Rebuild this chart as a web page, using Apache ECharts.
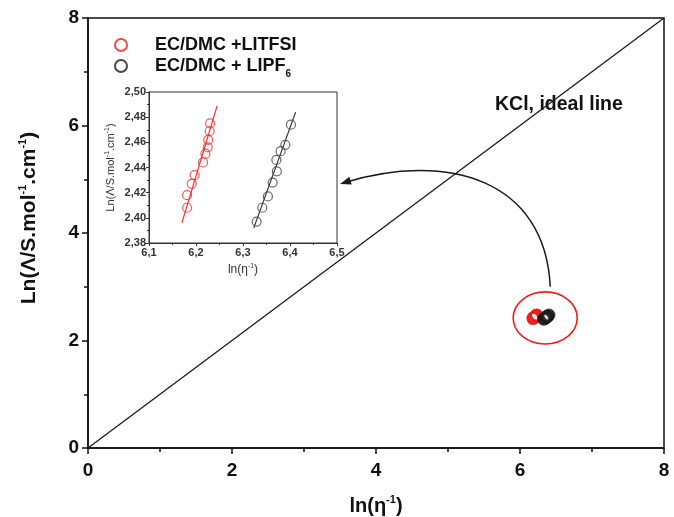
<!DOCTYPE html>
<html>
<head>
<meta charset="utf-8">
<script src="https://cdn.jsdelivr.net/npm/echarts@6/dist/echarts.min.js"></script>
<style>
  html, body { margin: 0; padding: 0; background: #fff; }
  #chart { width: 674px; height: 517px; }
</style>
</head>
<body>
<div id="chart"></div>
<script>
// LiTFSI in EC/DMC
const litfsiX = [6.181, 6.181, 6.191, 6.197, 6.215, 6.220, 6.225, 6.226, 6.229, 6.230]
const litfsiY = [2.408, 2.418, 2.427, 2.434, 2.444, 2.451, 2.456, 2.462, 2.469, 2.475]
// LiPF6 in EC/DMC
const lipf6X = [6.329, 6.341, 6.353, 6.363, 6.372, 6.371, 6.380, 6.390, 6.402]
const lipf6Y = [2.397, 2.408, 2.417, 2.428, 2.437, 2.446, 2.453, 2.458, 2.474]
// linear fits (end points)
const litfsiFit = [[6.170, 2.396], [6.245, 2.489]]
const lipf6Fit = [[6.323, 2.392], [6.412, 2.484]]
// KCl ideal line
const idealLine = [[0, 0], [8, 8]]
// annotation ellipse [cx, cy, rx, ry] and arrow [start, cp1, cp2, end]
const ellipse = [[6.35, 2.42, 0.445, 0.484]]
const arrow = [[6.42, 3.0, 6.35, 4.99, 5.0, 5.53, 3.54, 4.93]]

const pts = (xs, ys) => xs.map((x, i) => [x, ys[i]])

const FONT = 'Liberation Sans'
const RED = '#ee1c1c'
const BLACK = '#1a1a1a'

const chart = echarts.init(document.getElementById('chart'))

const mainLabel = { fontFamily: FONT, fontWeight: 'bold', fontSize: 19, color: '#111' }
const insetLabel = { fontFamily: FONT, fontWeight: 'bold', fontSize: 11, color: '#333' }

chart.setOption({
  animation: false,
  backgroundColor: '#fff',
  legend: {
    orient: 'vertical',
    left: 109,
    top: 31,
    itemGap: 3,
    itemWidth: 16,
    itemHeight: 12,
    data: ['EC/DMC +LITFSI', 'EC/DMC + LIPF6'],
    formatter: function (name) {
      if (name === 'EC/DMC + LIPF6') return '{t|EC/DMC + LIPF}{s|6}'
      return '{t|' + name + '}'
    },
    textStyle: {
      rich: {
        t: { fontFamily: FONT, fontWeight: 'bold', fontSize: 18, color: '#111', lineHeight: 18, padding: [0, 0, 0, 21] },
        s: { fontFamily: FONT, fontWeight: 'bold', fontSize: 10, color: '#111', verticalAlign: 'bottom', lineHeight: 26 }
      }
    }
  },
  graphic: [{
    type: 'text',
    left: 495,
    top: 95,
    style: { text: 'KCl, ideal line', font: 'bold 19.5px "Liberation Sans"', fill: '#111' }
  }],
  grid: [
    { left: 88, right: 10, top: 18, bottom: 69, outerBoundsMode: 'none', show: true, borderColor: '#111', borderWidth: 1.5 },
    { left: 149, top: 92, width: 188, height: 151, outerBoundsMode: 'none', show: true, borderColor: '#333', borderWidth: 1, backgroundColor: '#fff' }
  ],
  xAxis: [{
    gridIndex: 0,
    type: 'value', min: 0, max: 8, interval: 2,
    name: '{b|ln(η}{s|-1}{b|)}',
    nameLocation: 'middle', nameGap: 46,
    nameTextStyle: {
      rich: {
        b: { fontFamily: FONT, fontWeight: 'bold', fontSize: 20, color: '#111', lineHeight: 24 },
        s: { fontFamily: FONT, fontWeight: 'bold', fontSize: 11, color: '#111', verticalAlign: 'top', lineHeight: 24 }
      }
    },
    axisLine: { lineStyle: { color: '#111', width: 1.5 } },
    axisTick: { inside: false, length: 6, lineStyle: { width: 1.5 } },
    minorTick: { show: true, splitNumber: 2, length: 4, lineStyle: { color: '#111', width: 1.5 } },
    splitLine: { show: false },
    axisLabel: Object.assign({ margin: 13 }, mainLabel)
  }, {
    gridIndex: 1,
    type: 'value', min: 6.1, max: 6.5, interval: 0.1,
    name: '{b|ln(η}{s|-1}{b|)}',
    nameLocation: 'middle', nameGap: 20,
    nameTextStyle: {
      rich: {
        b: { fontFamily: FONT, fontSize: 12, color: '#333', lineHeight: 14 },
        s: { fontFamily: FONT, fontSize: 7, color: '#333', verticalAlign: 'top', lineHeight: 14 }
      }
    },
    axisLine: { lineStyle: { color: '#333', width: 1 } },
    axisTick: { length: 3, lineStyle: { color: '#333' } },
    minorTick: { show: true, splitNumber: 2, length: 2, lineStyle: { color: '#333' } },
    splitLine: { show: false },
    axisLabel: Object.assign({ margin: 4, formatter: v => v.toFixed(1).replace('.', ',') }, insetLabel)
  }],
  yAxis: [{
    gridIndex: 0,
    type: 'value', min: 0, max: 8, interval: 2,
    name: '{b|Ln(Λ/S.mol}{s|-1}{b|.cm}{s|-1}{b|)}',
    nameLocation: 'middle', nameGap: 47,
    nameTextStyle: {
      padding: [0, 0, 0, 30],
      rich: {
        b: { fontFamily: FONT, fontWeight: 'bold', fontSize: 21, color: '#111', lineHeight: 24 },
        s: { fontFamily: FONT, fontWeight: 'bold', fontSize: 11, color: '#111', verticalAlign: 'top', lineHeight: 24 }
      }
    },
    axisLine: { lineStyle: { color: '#111', width: 1.5 } },
    axisTick: { length: 6, lineStyle: { width: 1.5 } },
    minorTick: { show: true, splitNumber: 2, length: 4, lineStyle: { color: '#111', width: 1.5 } },
    splitLine: { show: false },
    axisLabel: Object.assign({ margin: 9 }, mainLabel)
  }, {
    gridIndex: 1,
    type: 'value', min: 2.38, max: 2.50, interval: 0.02,
    name: '{b|Ln(Λ/S.mol}{s|-1}{b|.cm}{s|-1}{b|)}',
    nameLocation: 'middle', nameGap: 32,
    nameTextStyle: {
      rich: {
        b: { fontFamily: FONT, fontSize: 11, color: '#333', lineHeight: 13 },
        s: { fontFamily: FONT, fontSize: 7, color: '#333', verticalAlign: 'top', lineHeight: 13 }
      }
    },
    axisLine: { lineStyle: { color: '#333', width: 1 } },
    axisTick: { length: 3, lineStyle: { color: '#333' } },
    minorTick: { show: true, splitNumber: 2, length: 2, lineStyle: { color: '#333' } },
    splitLine: { show: false },
    axisLabel: Object.assign({ margin: 3, formatter: v => v.toFixed(2).replace('.', ',') }, insetLabel)
  }],
  series: [{
    name: 'ideal',
    type: 'line',
    xAxisIndex: 0, yAxisIndex: 0,
    data: idealLine,
    symbol: 'none',
    lineStyle: { color: BLACK, width: 1.3 },
    z: 1
  }, {
    name: 'EC/DMC +LITFSI',
    type: 'scatter',
    xAxisIndex: 0, yAxisIndex: 0,
    data: pts(litfsiX, litfsiY),
    symbol: 'circle', symbolSize: 11,
    itemStyle: { color: 'rgba(255,255,255,0)', borderColor: RED, borderWidth: 2 },
    z: 3
  }, {
    name: 'EC/DMC + LIPF6',
    type: 'scatter',
    xAxisIndex: 0, yAxisIndex: 0,
    data: pts(lipf6X, lipf6Y),
    symbol: 'circle', symbolSize: 11,
    itemStyle: { color: 'rgba(255,255,255,0)', borderColor: BLACK, borderWidth: 2 },
    z: 3
  }, {
    name: 'ellipse',
    type: 'custom',
    xAxisIndex: 0, yAxisIndex: 0,
    data: ellipse,
    encode: { x: 0, y: 1 },
    renderItem: function (params, api) {
      const c = api.coord([api.value(0), api.value(1)])
      const s = api.size([api.value(2), api.value(3)])
      return {
        type: 'ellipse',
        shape: { cx: c[0], cy: c[1], rx: s[0], ry: s[1] },
        style: { fill: 'none', stroke: RED, lineWidth: 1.6 }
      }
    },
    z: 4
  }, {
    name: 'arrow',
    type: 'custom',
    xAxisIndex: 0, yAxisIndex: 0,
    data: arrow,
    encode: { x: [0, 2, 4, 6], y: [1, 3, 5, 7] },
    renderItem: function (params, api) {
      const p0 = api.coord([api.value(0), api.value(1)])
      const p1 = api.coord([api.value(2), api.value(3)])
      const p2 = api.coord([api.value(4), api.value(5)])
      const p3 = api.coord([api.value(6), api.value(7)])
      let dx = p3[0] - p2[0]
      let dy = p3[1] - p2[1]
      const len = Math.sqrt(dx * dx + dy * dy)
      dx /= len; dy /= len
      const tip = [p3[0] + dx * 3, p3[1] + dy * 3]
      const back = [p3[0] - dx * 8, p3[1] - dy * 8]
      return {
        type: 'group',
        children: [{
          type: 'bezierCurve',
          shape: { x1: p0[0], y1: p0[1], cpx1: p1[0], cpy1: p1[1], cpx2: p2[0], cpy2: p2[1], x2: p3[0], y2: p3[1] },
          style: { fill: 'none', stroke: BLACK, lineWidth: 1.5 }
        }, {
          type: 'polygon',
          shape: {
            points: [tip, [back[0] - dy * 4, back[1] + dx * 4], [back[0] + dy * 4, back[1] - dx * 4]]
          },
          style: { fill: BLACK }
        }]
      }
    },
    z: 4
  }, {
    name: 'EC/DMC +LITFSI',
    type: 'scatter',
    xAxisIndex: 1, yAxisIndex: 1,
    data: pts(litfsiX, litfsiY),
    symbol: 'circle', symbolSize: 9,
    itemStyle: { color: 'rgba(255,255,255,0)', borderColor: '#f03030', borderWidth: 1.2 },
    z: 5
  }, {
    name: 'EC/DMC + LIPF6',
    type: 'scatter',
    xAxisIndex: 1, yAxisIndex: 1,
    data: pts(lipf6X, lipf6Y),
    symbol: 'circle', symbolSize: 9,
    itemStyle: { color: 'rgba(255,255,255,0)', borderColor: '#444', borderWidth: 1.2 },
    z: 5
  }, {
    name: 'fitLitfsi',
    type: 'line',
    xAxisIndex: 1, yAxisIndex: 1,
    data: litfsiFit,
    symbol: 'none',
    lineStyle: { color: '#f03030', width: 1.2 },
    z: 5
  }, {
    name: 'fitLipf6',
    type: 'line',
    xAxisIndex: 1, yAxisIndex: 1,
    data: lipf6Fit,
    symbol: 'none',
    lineStyle: { color: '#333', width: 1.2 },
    z: 5
  }]
})
</script>
</body>
</html>
